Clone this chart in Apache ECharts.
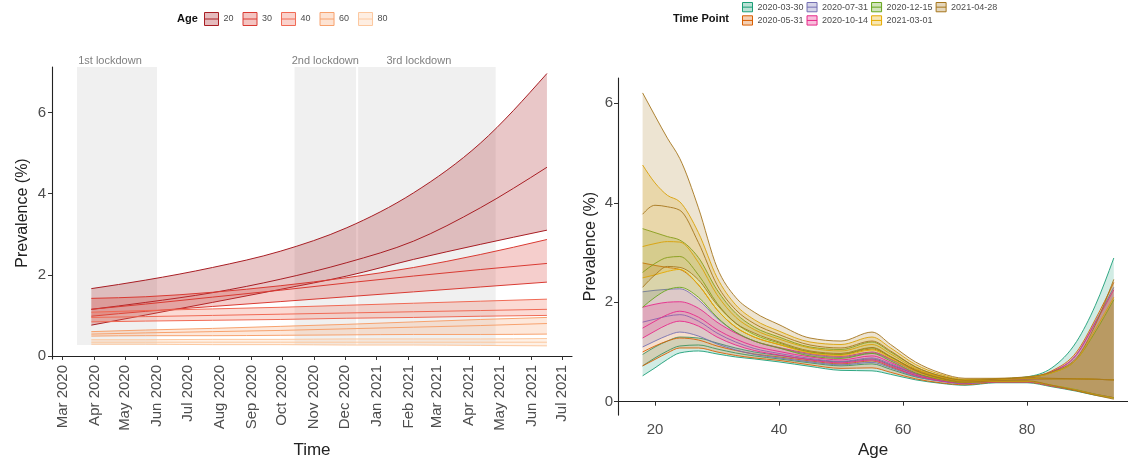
<!DOCTYPE html>
<html><head><meta charset="utf-8">
<script src="https://cdn.jsdelivr.net/npm/echarts@6/dist/echarts.min.js"></script>
<style>html,body{margin:0;padding:0;background:#fff}#c{width:1128px;height:464px}</style>
</head><body><div id="c"></div>
<script>
// ---------------- Left panel: prevalence over time by age ----------------
const timeDates = ['2020-03-29','2020-05-21','2020-07-25','2020-09-29','2020-12-03','2021-02-06','2021-04-12','2021-06-16'];
const ageGroups = ['20','30','40','60','80'];
const age20Upper = [1.66,1.87,2.18,2.58,3.16,4.02,5.24,6.96];
const age20Mid   = [1.15,1.32,1.56,1.89,2.30,2.83,3.65,4.65];
const age20Lower = [0.76,1.01,1.32,1.64,1.97,2.38,2.75,3.10];
const age30Upper = [1.42,1.46,1.57,1.73,1.93,2.18,2.50,2.87];
const age30Mid   = [1.15,1.28,1.45,1.62,1.80,1.97,2.13,2.28];
const age30Lower = [0.98,1.10,1.22,1.34,1.46,1.58,1.70,1.82];
const age40Upper = [1.08,1.12,1.16,1.20,1.25,1.30,1.35,1.40];
const age40Mid   = [0.95,0.97,1.00,1.03,1.06,1.09,1.12,1.15];
const age40Lower = [0.84,0.86,0.88,0.90,0.93,0.95,0.98,1.00];
const age60Upper = [0.60,0.64,0.68,0.73,0.78,0.84,0.90,0.95];
const age60Mid   = [0.54,0.57,0.60,0.63,0.67,0.71,0.75,0.80];
const age60Lower = [0.49,0.50,0.50,0.51,0.52,0.53,0.53,0.54];
const age80Upper = [0.40,0.40,0.41,0.41,0.42,0.42,0.42,0.43];
const age80Mid   = [0.34,0.34,0.34,0.34,0.34,0.34,0.34,0.34];
const age80Lower = [0.29,0.29,0.28,0.28,0.27,0.27,0.26,0.25];

const lockdownNames = ['1st lockdown','2nd lockdown','3rd lockdown'];
const lockdownStart = ['2020-03-15','2020-10-13','2020-12-14'];
const lockdownEnd   = ['2020-06-01','2020-12-12','2021-04-27'];
const lockdownYMin = 0.27, lockdownYMax = 7.12;

const monthTicks = ['2020-03-01','2020-04-01','2020-05-01','2020-06-01','2020-07-01','2020-08-01','2020-09-01','2020-10-01','2020-11-01','2020-12-01','2021-01-01','2021-02-01','2021-03-01','2021-04-01','2021-05-01','2021-06-01','2021-07-01'];
const monthTickLabels = ['Mar 2020','Apr 2020','May 2020','Jun 2020','Jul 2020','Aug 2020','Sep 2020','Oct 2020','Nov 2020','Dec 2020','Jan 2021','Feb 2021','Mar 2021','Apr 2021','May 2021','Jun 2021','Jul 2021'];
const leftYTicks = [0,2,4,6];

// ---------------- Right panel: prevalence by age at time points ----------------
const ages = [18,20,22,24,27,30,33,36,40,45,50,55,58,62,66,70,75,80,84,88,91,94];
const timePoints = ['2020-03-30','2020-05-31','2020-07-31','2020-10-14','2020-12-15','2021-03-01','2021-04-28'];
const tp0330Upper = [0.95,1.10,1.22,1.30,1.28,1.18,1.08,1.00,0.93,0.85,0.80,0.86,0.74,0.56,0.46,0.41,0.45,0.50,0.68,1.21,1.93,2.89];
const tp0330Mid   = [0.72,0.88,1.02,1.12,1.14,1.06,0.98,0.92,0.86,0.78,0.72,0.76,0.65,0.50,0.42,0.37,0.42,0.45,0.46,0.46,0.45,0.44];
const tp0330Lower = [0.52,0.68,0.85,0.98,1.02,0.96,0.90,0.86,0.80,0.71,0.63,0.62,0.55,0.44,0.37,0.33,0.38,0.38,0.30,0.21,0.13,0.07];
const tp0531Upper = [2.79,2.74,2.70,2.66,2.35,1.85,1.50,1.30,1.15,1.00,0.95,1.06,0.90,0.65,0.50,0.43,0.45,0.48,0.62,1.00,1.65,2.40];
const tp0531Mid   = [1.00,1.12,1.22,1.28,1.24,1.12,1.03,0.96,0.90,0.82,0.76,0.82,0.70,0.53,0.44,0.39,0.43,0.46,0.46,0.46,0.45,0.44];
const tp0531Lower = [0.72,0.85,0.98,1.08,1.08,1.00,0.93,0.88,0.83,0.74,0.67,0.68,0.59,0.46,0.38,0.34,0.39,0.39,0.31,0.22,0.14,0.08];
const tp0731Upper = [2.21,2.24,2.26,2.27,2.05,1.68,1.40,1.22,1.08,0.95,0.89,0.98,0.85,0.61,0.48,0.42,0.45,0.48,0.60,0.95,1.60,2.30];
const tp0731Mid   = [1.60,1.66,1.72,1.75,1.62,1.38,1.20,1.07,0.97,0.87,0.81,0.88,0.76,0.56,0.45,0.40,0.43,0.46,0.46,0.46,0.45,0.44];
const tp0731Lower = [1.10,1.22,1.33,1.40,1.32,1.16,1.04,0.95,0.88,0.80,0.74,0.79,0.68,0.51,0.41,0.36,0.40,0.40,0.32,0.23,0.15,0.08];
const tp1014Upper = [1.90,1.96,2.00,2.01,1.88,1.60,1.38,1.22,1.09,0.97,0.91,1.00,0.86,0.62,0.48,0.42,0.45,0.48,0.60,0.95,1.58,2.25];
const tp1014Mid   = [1.48,1.62,1.75,1.82,1.70,1.45,1.26,1.12,1.01,0.90,0.84,0.92,0.79,0.57,0.45,0.40,0.43,0.46,0.46,0.46,0.45,0.44];
const tp1014Lower = [1.28,1.42,1.55,1.62,1.52,1.30,1.14,1.03,0.94,0.84,0.78,0.84,0.72,0.53,0.42,0.37,0.40,0.40,0.32,0.23,0.15,0.08];
const tp1215Upper = [3.48,3.40,3.32,3.25,2.90,2.25,1.78,1.50,1.30,1.10,1.05,1.20,1.00,0.70,0.52,0.44,0.46,0.49,0.58,0.85,1.40,2.05];
const tp1215Mid   = [2.60,2.78,2.90,2.92,2.55,1.98,1.58,1.35,1.18,1.00,0.95,1.08,0.90,0.63,0.48,0.41,0.44,0.47,0.46,0.46,0.45,0.44];
const tp1215Lower = [1.90,2.10,2.25,2.30,2.10,1.70,1.40,1.22,1.08,0.92,0.87,0.97,0.82,0.58,0.45,0.38,0.41,0.41,0.33,0.24,0.15,0.08];
const tp0301Upper = [4.76,4.40,4.15,4.02,3.40,2.50,1.95,1.65,1.42,1.20,1.15,1.30,1.08,0.75,0.55,0.45,0.46,0.49,0.58,0.85,1.45,2.10];
const tp0301Mid   = [3.12,3.18,3.22,3.21,2.80,2.15,1.70,1.45,1.26,1.08,1.02,1.15,0.96,0.67,0.50,0.42,0.44,0.47,0.46,0.46,0.45,0.44];
const tp0301Lower = [2.49,2.55,2.62,2.66,2.35,1.85,1.50,1.30,1.15,0.98,0.93,1.04,0.87,0.61,0.46,0.39,0.41,0.41,0.33,0.23,0.14,0.07];
const tp0428Upper = [6.21,5.75,5.30,4.89,3.90,2.70,2.10,1.80,1.55,1.28,1.22,1.40,1.15,0.80,0.58,0.47,0.47,0.50,0.60,0.88,1.54,2.46];
const tp0428Mid   = [3.77,3.95,3.92,3.85,3.20,2.35,1.85,1.57,1.35,1.14,1.08,1.22,1.02,0.70,0.52,0.43,0.45,0.48,0.47,0.46,0.45,0.44];
const tp0428Lower = [2.30,2.55,2.72,2.70,2.45,1.95,1.58,1.38,1.20,1.02,0.97,1.09,0.91,0.63,0.47,0.39,0.42,0.42,0.33,0.22,0.13,0.05];
const rightXTicks = [20,40,60,80];
const rightYTicks = [0,2,4,6];

// ---------------- styling ----------------
const ageColors = ['#a81e24','#d93a32','#f06a55','#f7a26e','#fcc89f'];
const tpColors = ['#1b9e77','#d95f02','#7570b3','#e7298a','#66a61e','#e6ab02','#a6761d'];
const FONT = '"Liberation Sans", Arial, Helvetica, sans-serif';
const ts = s => Date.UTC(+s.slice(0,4), +s.slice(5,7)-1, +s.slice(8,10));
function rgba(hex, a){const n=parseInt(hex.slice(1),16);return `rgba(${n>>16},${(n>>8)&255},${n&255},${a})`;}

const leftData = [
  [age20Lower, age20Mid, age20Upper],
  [age30Lower, age30Mid, age30Upper],
  [age40Lower, age40Mid, age40Upper],
  [age60Lower, age60Mid, age60Upper],
  [age80Lower, age80Mid, age80Upper]
];
const rightData = [
  [tp0330Lower, tp0330Mid, tp0330Upper],
  [tp0531Lower, tp0531Mid, tp0531Upper],
  [tp0731Lower, tp0731Mid, tp0731Upper],
  [tp1014Lower, tp1014Mid, tp1014Upper],
  [tp1215Lower, tp1215Mid, tp1215Upper],
  [tp0301Lower, tp0301Mid, tp0301Upper],
  [tp0428Lower, tp0428Mid, tp0428Upper]
];

// monotone cubic (pixel space) path helpers for drawing smooth curves through the mapped points
function tangents(p){
  const n=p.length, m=new Array(n).fill(0), s=[], h=[];
  for(let i=0;i<n-1;i++){h[i]=p[i+1][0]-p[i][0]; s[i]=(p[i+1][1]-p[i][1])/h[i];}
  for(let i=1;i<n-1;i++){
    const pp=(s[i-1]*h[i]+s[i]*h[i-1])/(h[i-1]+h[i]);
    m[i]=(Math.sign(s[i-1])+Math.sign(s[i]))*Math.min(Math.abs(s[i-1]),Math.abs(s[i]),0.5*Math.abs(pp))||0;
  }
  m[0]=(3*s[0]-m[1])/2; m[n-1]=(3*s[n-2]-m[n-2])/2;
  return m;
}
const f=v=>v.toFixed(2);
function fwd(p,m){let d='';for(let i=0;i<p.length-1;i++){const dx=(p[i+1][0]-p[i][0])/3;
  d+=`C${f(p[i][0]+dx)} ${f(p[i][1]+m[i]*dx)} ${f(p[i+1][0]-dx)} ${f(p[i+1][1]-m[i+1]*dx)} ${f(p[i+1][0])} ${f(p[i+1][1])}`;}return d;}
function bwd(p,m){let d='';for(let i=p.length-1;i>0;i--){const dx=(p[i][0]-p[i-1][0])/3;
  d+=`C${f(p[i][0]-dx)} ${f(p[i][1]-m[i]*dx)} ${f(p[i-1][0]+dx)} ${f(p[i-1][1]+m[i-1]*dx)} ${f(p[i-1][0])} ${f(p[i-1][1])}`;}return d;}

function bandSeries(name, color, xs, triple, xi, fillA, lw, z){
  return {
    type:'custom', name:name, coordinateSystem:'cartesian2d', xAxisIndex:xi, yAxisIndex:xi,
    silent:true, z:z, color:color,
    data:[[xs[0], triple[1][0]]],
    renderItem:(params, api)=>{
      const P = arr => xs.map((x,i)=>api.coord([x, arr[i]]));
      const lo=P(triple[0]), mid=P(triple[1]), up=P(triple[2]);
      const mlo=tangents(lo), mmid=tangents(mid), mup=tangents(up);
      const ribbon = `M${f(up[0][0])} ${f(up[0][1])}`+fwd(up,mup)+`L${f(lo[lo.length-1][0])} ${f(lo[lo.length-1][1])}`+bwd(lo,mlo)+'Z';
      const line = (p,m)=>`M${f(p[0][0])} ${f(p[0][1])}`+fwd(p,m);
      return {type:'group', children:[
        {type:'path', shape:{pathData:ribbon}, style:{fill:rgba(color,fillA), stroke:null}},
        {type:'path', shape:{pathData:line(lo,mlo)}, style:{fill:null, stroke:color, lineWidth:lw}},
        {type:'path', shape:{pathData:line(mid,mmid)}, style:{fill:null, stroke:color, lineWidth:lw}},
        {type:'path', shape:{pathData:line(up,mup)}, style:{fill:null, stroke:color, lineWidth:lw}}
      ]};
    }
  };
}

const series = [];
series.push({
  type:'line', name:'_lockdown', xAxisIndex:0, yAxisIndex:0, data:[], silent:true, z:0,
  markArea:{
    silent:true, itemStyle:{color:'#f0f0f0'},
    label:{show:true, position:'top', distance:1, color:'#808080', fontSize:11, fontFamily:FONT},
    data: lockdownNames.map((n,i)=>[
      {name:n, xAxis:ts(lockdownStart[i]), yAxis:lockdownYMin, label: i===0?{offset:[-7,0]}:(i===2?{offset:[-8,0]}:{})},
      {xAxis:ts(lockdownEnd[i]), yAxis:lockdownYMax}
    ])
  }
});
const leftX = timeDates.map(ts);
ageGroups.forEach((g,k)=> series.push(bandSeries(g, ageColors[k], leftX, leftData[k], 0, 0.25, 1, 2+k)));
timePoints.forEach((t,k)=> series.push(bandSeries(t, tpColors[k], ages, rightData[k], 1, 0.2, 0.9, 2+k)));

const iconPath = 'path://M0,0L14,0L14,13L0,13Z M0,6.5L14,6.5';
const axisLineStyle = {lineStyle:{color:'#222', width:1.1}};
const tickStyle = {lineStyle:{color:'#333', width:1}};
const labelColor = '#4d4d4d';

const option = {
  animation:false,
  textStyle:{fontFamily:FONT},
  title:[
    {text:'Age', left:177, top:13, padding:0, textStyle:{fontSize:11, fontWeight:'bold', color:'#111', fontFamily:FONT}},
    {text:'Time Point', left:673, top:13, padding:0, textStyle:{fontSize:11, fontWeight:'bold', color:'#111', fontFamily:FONT}}
  ],
  legend:[
    {left:204, top:12, padding:0, orient:'horizontal', itemWidth:14, itemHeight:13, itemGap:9,
     selectedMode:false, icon:iconPath,
     textStyle:{fontSize:9, color:labelColor, fontFamily:FONT},
     data: ageGroups.map((g,k)=>({name:g, itemStyle:{color:rgba(ageColors[k],0.3), borderColor:ageColors[k], borderWidth:1}}))},
    {left:742, top:2, padding:0, orient:'vertical', height:28, itemWidth:10, itemHeight:12, itemGap:3,
     selectedMode:false, icon:iconPath,
     textStyle:{fontSize:9, color:labelColor, fontFamily:FONT},
     data: timePoints.map((t,k)=>({name:t, itemStyle:{color:rgba(tpColors[k],0.3), borderColor:tpColors[k], borderWidth:1}}))}
  ],
  grid:[
    {left:52, right:556, top:67, bottom:104},
    {left:618, right:0, top:78, bottom:42}
  ],
  xAxis:[
    {type:'value', gridIndex:0, min:Date.UTC(2020,1,19,16), max:Date.UTC(2021,6,10,10),
     splitLine:{show:false}, axisLine:axisLineStyle,
     axisTick:{show:true, length:4, customValues: monthTicks.map(ts), ...tickStyle},
     axisLabel:{rotate:90, margin:6, fontSize:15, color:labelColor, fontFamily:FONT,
       customValues: monthTicks.map(ts),
       formatter:(v)=>{const i=monthTicks.map(ts).indexOf(v);return i>=0?monthTickLabels[i]:'';}},
     name:'Time', nameLocation:'middle', nameGap:83, nameTextStyle:{fontSize:17, color:'#222', fontFamily:FONT}},
    {type:'value', gridIndex:1, min:14.03, max:96.29,
     splitLine:{show:false}, axisLine:axisLineStyle,
     axisTick:{show:true, length:4, customValues: rightXTicks, ...tickStyle},
     axisLabel:{margin:7, fontSize:15, color:labelColor, fontFamily:FONT, customValues: rightXTicks},
     name:'Age', nameLocation:'middle', nameGap:25, nameTextStyle:{fontSize:17, color:'#222', fontFamily:FONT}}
  ],
  yAxis:[
    {type:'value', gridIndex:0, min:-0.074, max:7.12,
     splitLine:{show:false}, axisLine:{show:true, ...axisLineStyle},
     axisTick:{show:true, length:4, customValues:leftYTicks, ...tickStyle},
     axisLabel:{margin:6, fontSize:15, color:labelColor, fontFamily:FONT, customValues:leftYTicks},
     name:'Prevalence (%)', nameLocation:'middle', nameGap:21, nameTextStyle:{fontSize:16, color:'#222', fontFamily:FONT}},
    {type:'value', gridIndex:1, min:-0.27, max:6.51,
     splitLine:{show:false}, axisLine:{show:true, ...axisLineStyle},
     axisTick:{show:true, length:4, customValues:rightYTicks, ...tickStyle},
     axisLabel:{margin:5, fontSize:15, color:labelColor, fontFamily:FONT, customValues:rightYTicks},
     name:'Prevalence (%)', nameLocation:'middle', nameGap:19, nameTextStyle:{fontSize:16, color:'#222', fontFamily:FONT}}
  ],
  series: series
};
const chart = echarts.init(document.getElementById('c'), null, {renderer:'canvas'});
chart.setOption(option);
</script>
</body></html>
